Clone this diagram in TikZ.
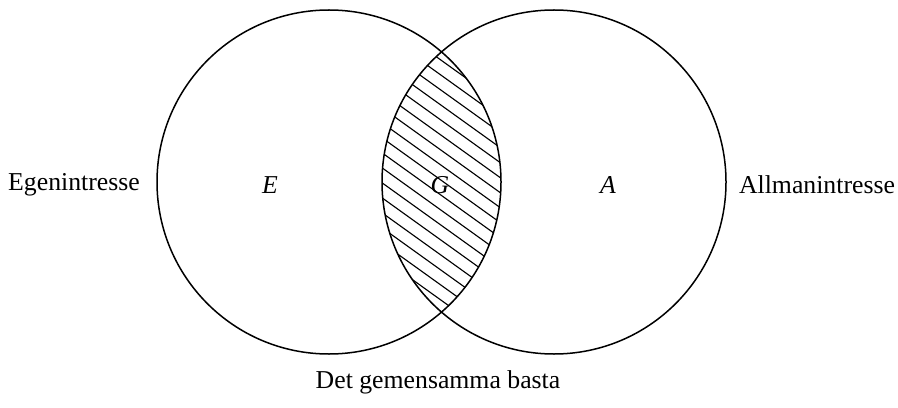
\documentclass[tikz,border=0pt]{standalone}
\usepackage{fontspec}
\setmainfont{Liberation Serif}
\begin{document}
\begin{tikzpicture}[x=0.4pt, y=0.4pt, line join=round, line cap=round,
  every node/.style={font=\fontsize{10.3pt}{12pt}\selectfont, inner sep=0pt}]
  \useasboundingbox (0,0) rectangle (898,407);
  \coordinate (E0) at (329,225);
  \coordinate (A0) at (554,225);

  % skraffering av snittet G
  \begin{scope}
    \clip (E0) circle (172);
    \clip (A0) circle (172);
    \foreach \k in {0,...,26}
      \draw[line width=0.45pt] (360,{30+15*\k}) -- ++(170,-122);
  \end{scope}

  \draw[line width=0.6pt] (E0) circle (172);
  \draw[line width=0.6pt] (A0) circle (172);

  \node (E) at (270,222) {\textit{E}};
  \node (G) at (440,222) {\textit{G}};
  \node (A) at (608,222) {\textit{A}};
  \node (ego) at (74,222) {Egenintresse};
  \node (allm) at (817,222) {Allmanintresse};
  \node (basta) at (438,25) {Det gemensamma basta};
\end{tikzpicture}
\end{document}
